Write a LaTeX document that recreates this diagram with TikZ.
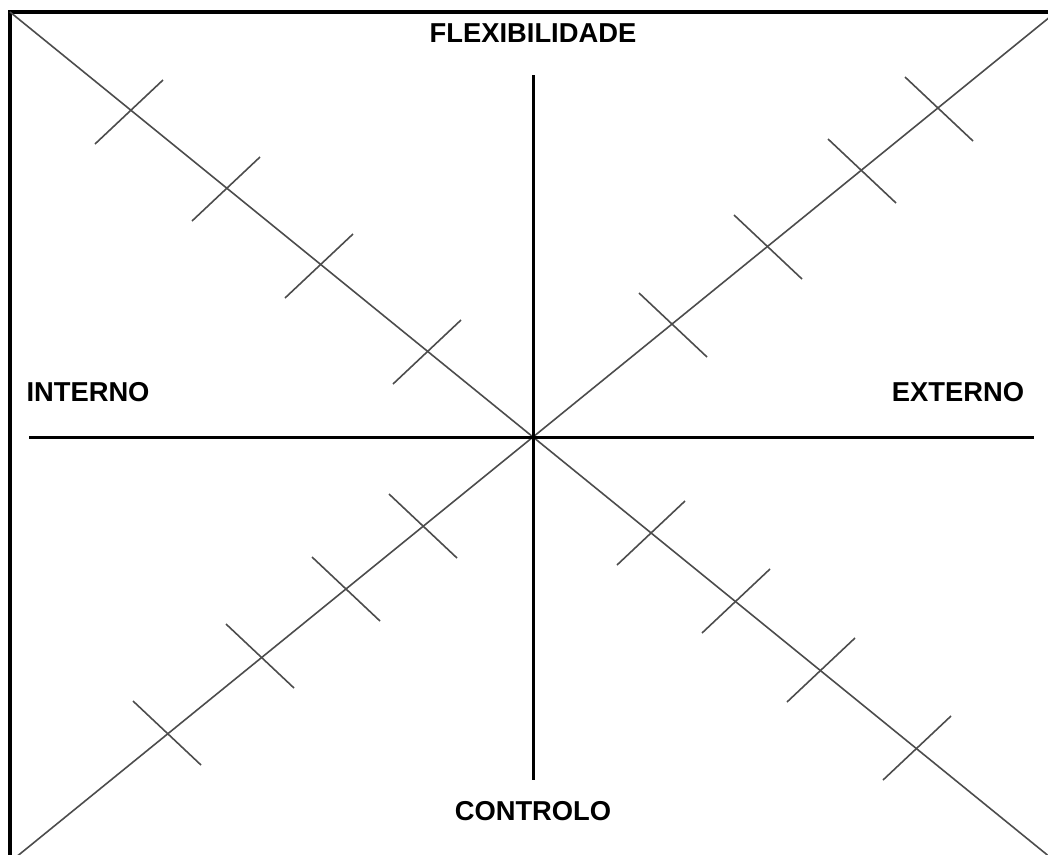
\documentclass[tikz,border=0pt]{standalone}
\usepackage{fontspec}
\setmainfont{Liberation Sans}

\tikzset{every picture/.style={line width=0.75pt}}
\tikzset{
  frameline/.style={line width=2.4pt},
  axisline/.style={line width=2.25pt},
  diagline/.style={line width=1.2pt, color=black!70},
  tickline/.style={line width=1.2pt, color=black!70},
  quadlabel/.style={font=\bfseries\fontsize{20.5}{24}\selectfont, inner sep=0pt}
}

\begin{document}
\begin{tikzpicture}[x=0.75pt,y=0.75pt,yscale=-1,xscale=1]
\useasboundingbox (0,0) rectangle (1048,854);

%Shape: Frame
\draw [frameline] (10,12) rectangle (1056,862) ;

%Straight Lines: diagonals
\draw [diagline] (10,12) -- (1056,862) ;
\draw [diagline] (1056,12) -- (10,862) ;

%Straight Lines: axes
\coordinate (centre) at (533,437) ;
\draw [axisline] (533,75) -- (533,780) ;
\draw [axisline] (29,437) -- (1034,437) ;

%Ticks: upper left
\draw [tickline] (95,144) -- (163,80) ;
\draw [tickline] (192,221) -- (260,157) ;
\draw [tickline] (285,298) -- (353,234) ;
\draw [tickline] (393,384) -- (461,320) ;
%Ticks: lower right
\draw [tickline] (617,565) -- (685,501) ;
\draw [tickline] (702,633) -- (770,569) ;
\draw [tickline] (787,702) -- (855,638) ;
\draw [tickline] (883,780) -- (951,716) ;
%Ticks: upper right
\draw [tickline] (905,77) -- (973,141) ;
\draw [tickline] (828,139) -- (896,203) ;
\draw [tickline] (734,215) -- (802,279) ;
\draw [tickline] (639,293) -- (707,357) ;
%Ticks: lower left
\draw [tickline] (389,494) -- (457,558) ;
\draw [tickline] (312,557) -- (380,621) ;
\draw [tickline] (226,624) -- (294,688) ;
\draw [tickline] (133,701) -- (201,765) ;

% Text Node
\node [quadlabel] (flex) at (533,33) {FLEXIBILIDADE};
% Text Node
\node [quadlabel] (ctrl) at (533,811) {CONTROLO};
% Text Node
\node [quadlabel] (intl) at (88,392) {INTERNO};
% Text Node
\node [quadlabel] (extl) at (958,392) {EXTERNO};

\end{tikzpicture}
\end{document}
